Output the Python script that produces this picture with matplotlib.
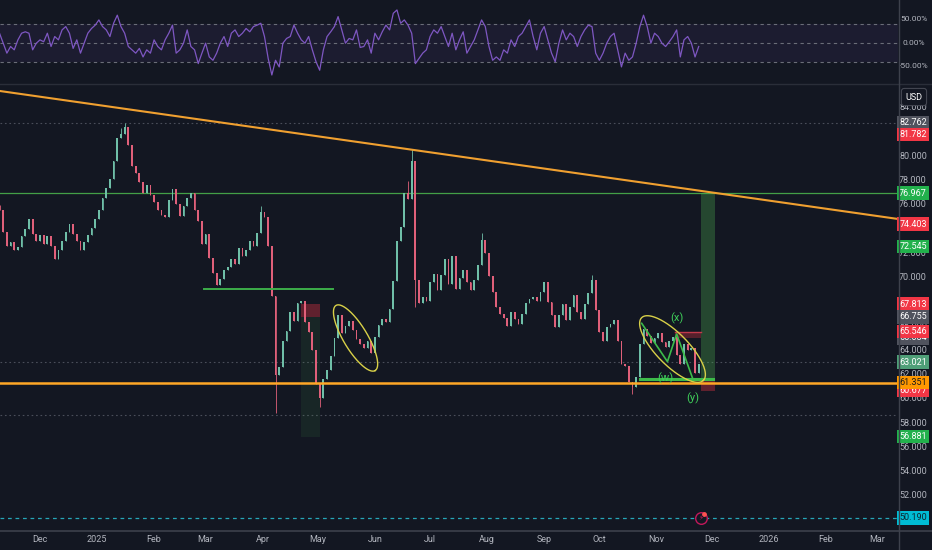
import numpy as np
import pandas as pd
import matplotlib
matplotlib.use('Agg')
import matplotlib.pyplot as plt
import matplotlib.transforms as mtransforms
from matplotlib.patches import Rectangle
from matplotlib.lines import Line2D

# ---------------- data ----------------
bar_start = '2024-11-09'   # 2-day bars
first_open = 76.0
close = [
    75.6, 73.8, 72.6, 72.9, 72.3, 72.5, 73.4, 74.0, 74.8, 73.6,
    73.0, 73.5, 72.8, 73.4, 72.6, 71.5, 72.3, 73.0, 73.8, 74.4,
    73.6, 73.0, 72.3, 72.9, 73.5, 74.1, 74.8, 75.6, 76.6, 77.4,
    78.1, 79.6, 81.5, 81.8, 82.4, 80.9, 79.2, 78.6, 77.9, 77.0,
    77.6, 76.8, 76.2, 75.6, 75.2, 75.0, 76.4, 77.3, 76.1, 75.1,
    75.9, 76.6, 77.0, 75.6, 74.7, 72.8, 73.6, 71.6, 70.4, 69.4,
    69.9, 70.6, 70.9, 71.5, 71.1, 72.4, 71.8, 72.3, 73.0, 72.6,
    73.7, 75.4, 75.0, 72.6, 68.5, 62.0, 62.6, 64.8, 65.6, 67.2,
    66.4, 67.9, 68.1, 66.3, 65.5, 64.0, 61.2, 60.1, 61.6, 62.4,
    63.5, 65.0, 66.9, 65.4, 66.0, 66.4, 65.7, 64.9, 64.5, 64.2,
    64.8, 63.8, 65.1, 66.1, 66.6, 66.3, 67.4, 69.7, 73.0, 74.2,
    77.0, 76.5, 79.6, 69.8, 67.9, 68.4, 68.1, 69.6, 70.3, 69.0,
    70.2, 71.5, 69.5, 71.8, 69.1, 70.0, 70.6, 69.6, 69.0, 69.8,
    71.0, 73.1, 72.0, 70.1, 68.8, 67.6, 67.0, 66.7, 66.0, 67.2,
    66.6, 66.2, 67.0, 67.9, 68.2, 68.4, 68.1, 68.8, 69.6, 68.0,
    66.9, 65.9, 66.9, 67.8, 66.5, 67.6, 68.6, 67.2, 66.6, 67.8,
    68.7, 69.8, 67.3, 65.5, 64.8, 65.9, 66.2, 66.5, 64.8, 62.9,
    62.7, 61.4, 61.0, 61.8, 64.5, 65.8, 65.2, 64.6, 65.0, 65.4,
    64.7, 64.3, 64.8, 65.1, 63.6, 62.9, 64.5, 64.0, 64.2, 62.1, 62.9,
]
high_wicks = {33: 82.3, 34: 82.76, 111: 78.0, 112: 80.6, 131: 73.7, 161: 70.2, 71: 75.9}
low_wicks = {75: 58.8, 87: 59.3, 172: 60.4, 113: 67.6}

osc = [
    20, -1, -22, -8, -15, 6, 20, 23, 20, -15,
    -1, 6, 2, 20, -8, 13, 6, 27, 34, 20,
    -12, 6, -22, -1, 20, 30, 37, 48, 34, 27,
    13, 41, 58, 34, 20, -8, -15, -22, -12, -30,
    -15, -22, 6, -8, -15, 6, 20, 37, -22, -15,
    -1, 27, -8, -15, -44, -22, -1, -30, -37, -22,
    -1, 13, -8, 20, 27, 13, 20, 30, 23, 34,
    37, 41, 13, -33, -68, -37, -51, -1, 9, 13,
    37, 20, 6, -1, 13, -15, -40, -58, -15, 13,
    23, 34, 55, 27, -1, 9, 6, 27, -10, -8,
    6, -22, 20, 6, 23, 37, 27, 62, 69, 41,
    48, 37, 20, -44, -33, -22, -15, 13, 27, 20,
    34, 13, -8, 20, -15, 6, 23, -22, -8, 6,
    27, 48, 34, -8, -37, -30, -37, -15, -22, 6,
    -8, 13, 20, 34, 48, 13, -15, 20, 34, 6,
    -22, -40, -1, 27, 6, 20, 13, -8, 13, 27,
    37, 34, -22, -37, -22, -1, 13, 20, -15, -51,
    -22, -37, -30, -1, 34, 58, 34, -1, 20, 13,
    -1, -8, 2, 13, 27, -30, 6, 13, -1, -30, -8,
]

month_ticks = ['2024-12-01', '2025-01-01', '2025-02-01', '2025-03-01', '2025-04-01',
               '2025-05-01', '2025-06-01', '2025-07-01', '2025-08-01', '2025-09-01',
               '2025-10-01', '2025-11-01', '2025-12-01', '2026-01-01', '2026-02-01',
               '2026-03-01']
month_labels = ['Dec', '2025', 'Feb', 'Mar', 'Apr', 'May', 'Jun', 'Jul', 'Aug', 'Sep',
                'Oct', 'Nov', 'Dec', '2026', 'Feb', 'Mar']

price_ticks = [84, 80, 78, 76, 72, 70, 66, 64, 62, 60, 58, 56, 54, 52]
# (price, box colour, text colour) drawn in this order
price_labels = [
    (82.762, '#50535e', 'white'),
    (81.782, '#f23645', 'white'),
    (76.967, '#22b14c', 'white'),
    (74.403, '#f23645', 'white'),
    (72.545, '#22b14c', 'white'),
    (67.813, '#f23645', 'white'),
    (66.755, '#50535e', 'white'),
    (65.034, '#50535e', 'white'),
    (65.546, '#f23645', 'white'),
    (63.021, '#4f9f78', 'white'),
    (60.677, '#f23645', 'white'),
    (61.351, '#ff9800', '#1a1a1a'),
    (56.881, '#22b14c', 'white'),
    (50.190, '#00bcd4', '#0c2730'),
]

trend_pts = [('2024-11-09', 85.39), ('2026-03-12', 74.84)]
support_level = 61.351
target_level = 76.967
dotted_levels = [82.762, 63.021, 58.7]
cyan_level = 50.19
green_seg = ('2025-02-28', '2025-05-09', 69.07)
green_seg2 = ('2025-10-23', '2025-12-02', 61.6)
wave_pts = [('2025-10-24', 66.23), ('2025-11-07', 63.07), ('2025-11-12', 65.35), ('2025-11-21', 61.56)]
wave_labels = [('(x)', '2025-11-12', 66.67), ('(w)', '2025-11-06', 61.72), ('(y)', '2025-11-21', 60.07)]

# ---------------- style ----------------
BG = '#131722'
UP = '#6fbfa8'
DN = '#e0607a'
TXT = '#b2b5be'
FONT = 'Roboto'

origin = pd.Timestamp('2024-12-01')
def dnum(s):
    return float((pd.Timestamp(s) - origin).days)

W, H = 932, 550
fig = plt.figure(figsize=(W / 100, H / 100), dpi=100, facecolor=BG)
def rect(x0, y0, x1, y1):
    return [x0 / W, 1 - y1 / H, (x1 - x0) / W, (y1 - y0) / H]

ax = fig.add_axes(rect(0, 85, 898, 530))
axo = fig.add_axes(rect(0, 0, 898, 84))
XMIN, XMAX = -21.74, 466.3
for a in (ax, axo):
    a.set_facecolor(BG)
    for s in a.spines.values():
        s.set_visible(False)
    a.set_xlim(XMIN, XMAX)
    a.tick_params(left=False, right=False, labelleft=False, bottom=False, labelbottom=False)
ax.set_ylim(49.19, 85.88)
axo.set_ylim(-87, 90)

# ---------------- candles ----------------
dates = pd.date_range(bar_start, periods=len(close), freq='2D')
t = np.array((dates - origin).days, dtype=float)
c = np.array(close)
o = np.r_[first_open, c[:-1]]
hi = np.maximum(o, c)
lo = np.minimum(o, c)
for k, v in high_wicks.items():
    hi[k] = max(hi[k], v)
for k, v in low_wicks.items():
    lo[k] = min(lo[k], v)
cols = np.where(c >= o, UP, DN)
ax.vlines(t, lo, hi, colors=cols, lw=0.6, zorder=4)
bh = np.maximum(np.abs(c - o), 0.08)
ax.bar(t, bh, bottom=np.minimum(o, c), width=0.95, color=cols, zorder=5, linewidth=0)

# ---------------- horizontal levels ----------------
for lv in dotted_levels:
    ax.axhline(lv, color='#4a4e5a', lw=0.8, ls=(0, (1.5, 2.5)), zorder=1)
ax.axhline(target_level, color='#43a047', lw=0.9, zorder=2)
ax.axhline(support_level, color='#ffa726', lw=1.8, zorder=6)
ax.axhline(cyan_level, color='#26a6b8', lw=0.9, ls=(0, (3, 3)), zorder=2)
ax.plot([dnum(green_seg[0]), dnum(green_seg[1])], [green_seg[2]] * 2, color='#3dae4a', lw=1.4, zorder=6)
ax.plot([dnum(green_seg2[0]), dnum(green_seg2[1])], [green_seg2[2]] * 2, color='#3dbb4a', lw=2.2, zorder=6)

# trendline
ax.plot([dnum(p[0]) for p in trend_pts], [p[1] for p in trend_pts], color='#f0a030', lw=1.5, zorder=6)

# ---------------- position boxes ----------------
def box(d0, d1, p0, p1, fc, alpha):
    ax.add_patch(Rectangle((dnum(d0), p0), dnum(d1) - dnum(d0), p1 - p0, fc=fc, ec='none',
                           alpha=alpha, zorder=2))
box('2025-04-22', '2025-05-02', 66.755, 67.813, '#f23645', 0.35)
box('2025-04-22', '2025-05-02', 56.881, 66.755, '#4caf50', 0.10)
box('2025-11-25', '2025-12-03', 61.55, 76.967, '#4caf50', 0.32)
box('2025-11-25', '2025-12-03', 60.68, 61.55, '#f23645', 0.35)
box('2025-11-11', '2025-11-25', 65.034, 65.546, '#f23645', 0.30)
ax.plot([dnum('2025-11-11'), dnum('2025-11-25')], [65.546] * 2, color='#c0394a', lw=1, zorder=6)

# ---------------- ellipses and wave ----------------
def ellipse(d, p, a_px, b_px, ang_deg):
    cx, cy = ax.transData.transform((d, p))
    th = np.linspace(0, 2 * np.pi, 240)
    ang = np.deg2rad(ang_deg)
    ex, ey = a_px * np.cos(th), b_px * np.sin(th)
    X = cx + ex * np.cos(ang) - ey * np.sin(ang)
    Y = cy + ex * np.sin(ang) + ey * np.cos(ang)
    pts = ax.transData.inverted().transform(np.c_[X, Y])
    ax.plot(pts[:, 0], pts[:, 1], color='#d8d048', lw=1.0, zorder=7)

ellipse(171.5, 65.02, 38, 12, -59)
ellipse(343.75, 64.11, 44, 16, -45.5)
ax.plot([dnum(p[0]) for p in wave_pts], [p[1] for p in wave_pts], color='#3dbb4a', lw=1.2, zorder=7)
for s, d, p in wave_labels:
    ax.text(dnum(d), p, s, color='#3fcf5a', fontsize=8, family=FONT, ha='center', va='center', zorder=8)

# lightning icon
ax.scatter([dnum('2025-11-25')], [cyan_level], s=70, facecolor=BG, edgecolor='#c2185b', lw=1.0, zorder=8)
ax.scatter([dnum('2025-11-27')], [cyan_level + 0.35], s=6, color='#ff5252', zorder=9)
ax.text(dnum('2025-11-25'), cyan_level, '\u26a1', color='#c2185b', fontsize=5, ha='center', va='center',
        family='DejaVu Sans', zorder=9)

# ---------------- oscillator ----------------
axo.axhspan(-40, 40, color='#7e57c2', alpha=0.09, lw=0)
for lv in (40, 0, -40):
    axo.axhline(lv, color='#6a6d78', lw=0.8, ls=(0, (3, 3)))
axo.plot(t, osc, color='#7e57c2', lw=0.9)
to = mtransforms.blended_transform_factory(fig.transFigure, axo.transData)
for v, s in ((50, '50.00%'), (0, '0.00%'), (-50, '-50.00%')):
    axo.text(914 / W, v, s, transform=to, color=TXT, fontsize=6, family=FONT, ha='center', va='center')

# ---------------- price axis ----------------
tr = mtransforms.blended_transform_factory(fig.transFigure, ax.transData)
for p in price_ticks:
    ax.text(913 / W, p, f'{p:.3f}', transform=tr, color=TXT, fontsize=6.5, family=FONT,
            ha='center', va='center', zorder=10)
for p, fc, tc in price_labels:
    ax.text(913 / W, p, f'{p:.3f}', transform=tr, color=tc, fontsize=6.5, family=FONT,
            ha='center', va='center', zorder=11,
            bbox=dict(boxstyle='square,pad=0.25', fc=fc, ec='none'))
fig.text(914 / W, 1 - 97 / H, 'USD', color='white', fontsize=6.5, family=FONT, ha='center', va='center',
         bbox=dict(boxstyle='round,pad=0.45,rounding_size=0.3', fc='#131722', ec='#434651', lw=0.8))

# ---------------- time axis ----------------
for d, s in zip(month_ticks, month_labels):
    xf = ax.transData.transform((dnum(d), 0))[0] / W
    fig.text(xf, 1 - 540 / H, s, color=TXT, fontsize=6.5, family=FONT, ha='center', va='center')

# separators
fig.add_artist(Line2D([0, 1], [1 - 84.5 / H] * 2, color='#2a2e39', lw=1.0))
fig.add_artist(Line2D([0, 1], [1 - 530.5 / H] * 2, color='#3d414c', lw=1.2))
fig.add_artist(Line2D([898.5 / W] * 2, [0, 1], color='#3d414c', lw=1.0))

fig.savefig('out.png', dpi=100, facecolor=BG)
